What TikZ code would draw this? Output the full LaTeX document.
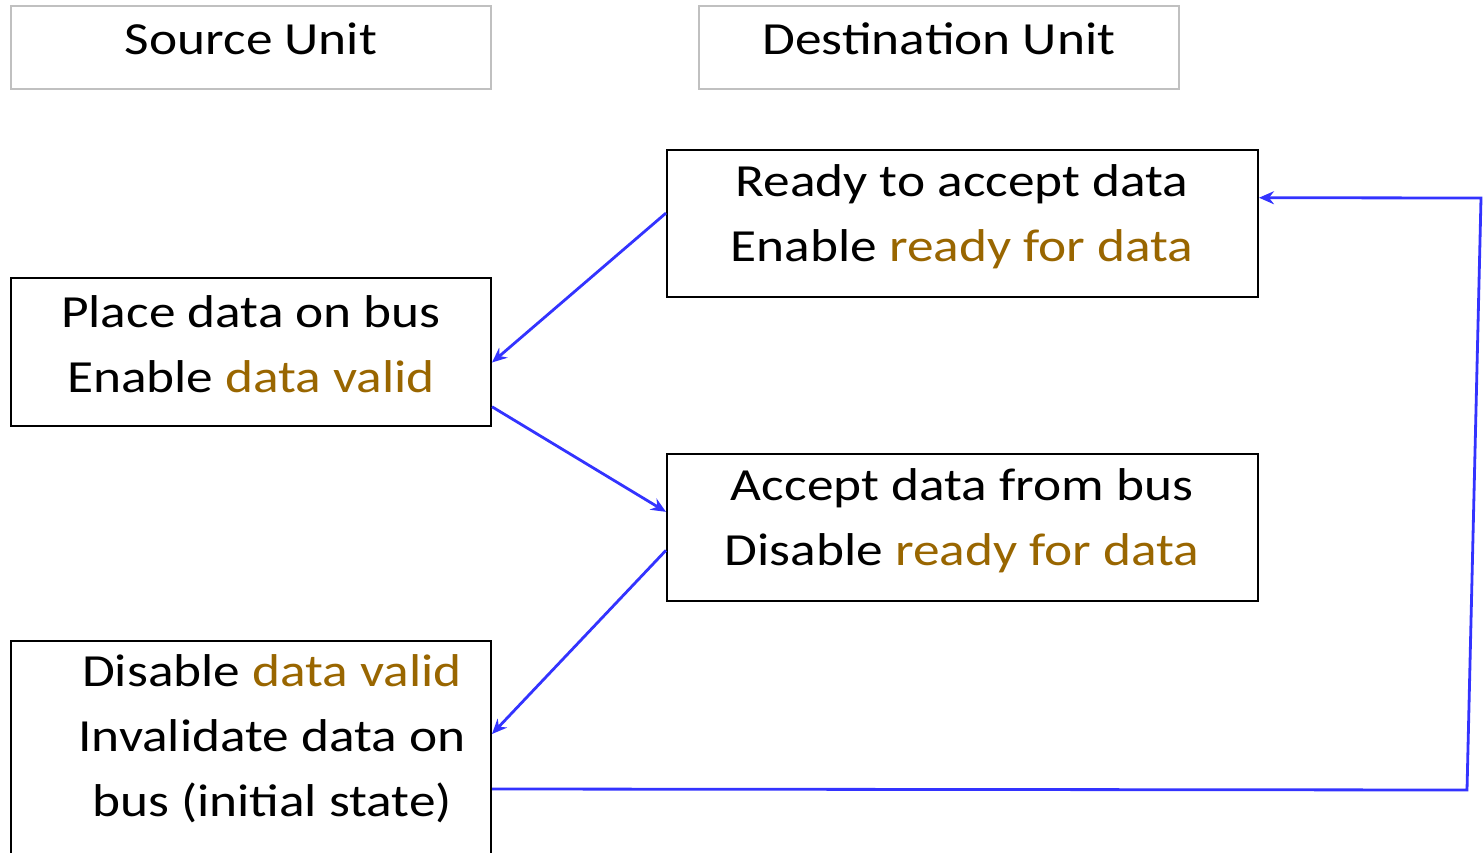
\documentclass[tikz,border=0pt]{standalone}
\usepackage{fontspec}
\setmainfont{Carlito}
\usetikzlibrary{arrows.meta,calc}
\definecolor{flowblue}{RGB}{51,51,255}
\definecolor{signal}{RGB}{153,102,0}
\definecolor{unitgray}{RGB}{192,192,192}
\newcommand{\sig}[1]{\textcolor{signal}{#1}}
\tikzset{
  unitbox/.style={draw=unitgray, line width=2pt, minimum width=480pt, minimum height=83pt, inner sep=0pt},
  stepbox/.style={draw=black, line width=2pt, inner sep=0pt},
  boxtext/.style={font=\fontsize{46}{65}\selectfont, align=center, inner sep=0pt, xscale=1.16, transform shape},
  flow/.style={draw=flowblue, line width=2.8pt, -{Stealth[length=15pt,width=13pt,inset=5pt]}}
}
\begin{document}
\begin{tikzpicture}[x=1pt,y=-1pt]
\clip (0,0) rectangle (1483,853);
\fill[white] (0,0) rectangle (1483,853);

% unit headers
\node[unitbox] (src) at (251,47.5) {};
\node[boxtext] at (251,39) {Source Unit};
\node[unitbox] (dst) at (939,47.5) {};
\node[boxtext] at (939,39) {Destination Unit};

% destination steps
\node[stepbox, minimum width=591pt, minimum height=147pt] (ready) at (962.5,223.5) {};
\node[boxtext] at (962,217) {Ready to accept data\\Enable \sig{ready for data}};
\node[stepbox, minimum width=591pt, minimum height=147pt] (accept) at (962.5,527.5) {};
\node[boxtext] at (962,521) {Accept data from bus\\Disable \sig{ready for data}};

% source steps
\node[stepbox, minimum width=480pt, minimum height=148pt] (place) at (251,352) {};
\node[boxtext] at (251,344) {Place data on bus\\Enable \sig{data valid}};
\node[stepbox, minimum width=480pt, minimum height=240pt] (disable) at (251,761) {};
\node[boxtext] at (272,739) {Disable \sig{data valid}\\Invalidate data on\\bus (initial state)};

% handshake sequence
\draw[flow] ($(ready.north west)!0.43!(ready.south west)$) -- ($(place.north east)!0.57!(place.south east)$);
\draw[flow] ($(place.north east)!0.865!(place.south east)$) -- ($(accept.north west)!0.395!(accept.south west)$);
\draw[flow] ($(accept.north west)!0.653!(accept.south west)$) -- ([yshift=-94pt]disable.north east);
\coordinate (loopa) at (1467,790);
\coordinate (loopb) at (1481,198);
\draw[flow] ([yshift=-149pt]disable.north east) -- (loopa) -- (loopb) -- ($(ready.north east)!0.327!(ready.south east)$);
\end{tikzpicture}
\end{document}
